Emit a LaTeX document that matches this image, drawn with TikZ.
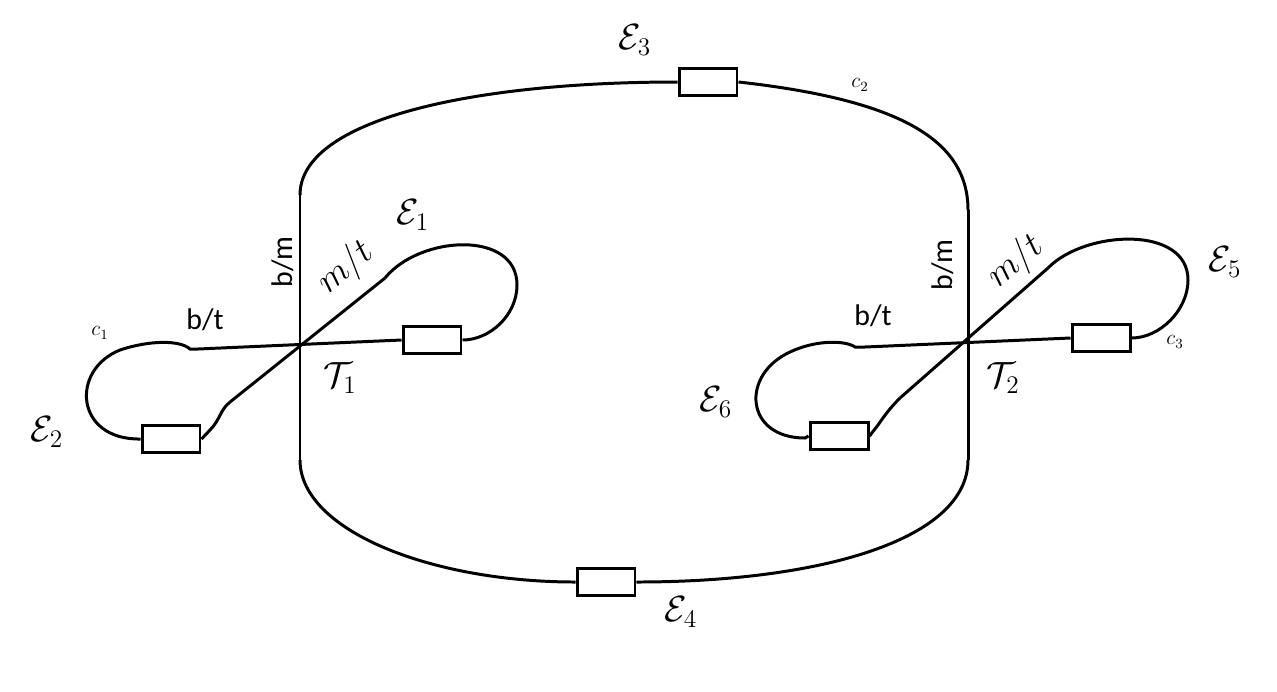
\documentclass[tikz,border=0pt]{standalone}
\usepackage{fontspec}
\newfontfamily\carlitofont{Carlito}
\begin{document}
\begin{tikzpicture}[x=0.02cm,y=-0.02cm,line width=1.7pt,
  comp/.style={draw,line width=1.7pt,minimum width=1.16cm,minimum height=0.55cm,inner sep=0pt,fill=white},
  lab/.style={font=\fontsize{20}{20}\selectfont},
  sl/.style={font=\carlitofont\fontsize{17}{17}\selectfont}]
\useasboundingbox (0,0) rectangle (1277,691);
\coordinate (lt) at (300,195);
\coordinate (lb) at (300,460);
\coordinate (rt) at (968,210);
\coordinate (rb) at (968,460);
\node[comp] (e3) at (708,82) {};
\node[comp] (e4) at (606,582) {};
\node[comp] (e1) at (432,340) {};
\node[comp] (e2) at (171,439) {};
\node[comp] (e5) at (1101,338) {};
\node[comp] (e6) at (839,436) {};
% outer frame
\draw (lt) -- (lb);
\draw (rt) -- (rb);
\draw (lt) .. controls (300,120) and (470,82) .. (e3.west);
\draw (e3.east) .. controls (900,100) and (968,140) .. (rt);
\draw (lb) .. controls (300,530) and (430,582) .. (e4.west);
\draw (e4.east) .. controls (820,582) and (968,540) .. (rb);
% left figure eight
\coordinate (a1) at (198,349);
\coordinate (d1) at (385,278);
\coordinate (d2) at (230,402);
\draw (a1) -- (e1.west);
\draw (d2) -- (d1);
\draw (d1) .. controls (420,235) and (517,230) .. (517,285)
      .. controls (517,315) and (490,340) .. (e1.east);
\draw (a1) -- (190,349) .. controls (180,340) and (150,340) .. (120,350)
      .. controls (70,370) and (75,440) .. (e2.west);
\draw (e2.east) -- (210,430) .. controls (220,420) and (220,410) .. (d2);
% right figure eight
\coordinate (a2) at (865,347);
\coordinate (d3) at (1048,268);
\coordinate (d4) at (900,398);
\draw (a2) -- (e5.west);
\draw (d4) -- (d3);
\draw (d3) .. controls (1085,230) and (1188,225) .. (1188,280)
      .. controls (1188,310) and (1160,338) .. (e5.east);
\draw (a2) -- (855,347) .. controls (845,340) and (815,340) .. (790,352)
      .. controls (740,375) and (745,438) .. (805,438) -- (e6.west);
\draw (e6.east) -- (878,425) .. controls (885,415) and (890,408) .. (d4);
% labels
\node[lab] at (635,40) {$\mathcal{E}_3$};
\node[lab] at (681,612) {$\mathcal{E}_4$};
\node[lab] at (413,215) {$\mathcal{E}_1$};
\node[lab] at (47,432) {$\mathcal{E}_2$};
\node[lab] at (1225,262) {$\mathcal{E}_5$};
\node[lab] at (716,402) {$\mathcal{E}_6$};
\node[lab] at (340,378) {$\mathcal{T}_1$};
\node[lab] at (1003,378) {$\mathcal{T}_2$};
\node[font=\fontsize{12}{12}\selectfont] at (860,85) {$c_2$};
\node[font=\fontsize{12}{12}\selectfont] at (100,333) {$c_1$};
\node[font=\fontsize{12}{12}\selectfont] at (1175,342) {$c_3$};
\node[sl,rotate=90] at (283,262) {b/m};
\node[sl,rotate=90] at (943,265) {b/m};
\node[sl] at (205,320) {b/t};
\node[sl] at (873,316) {b/t};
\node[lab,rotate=40,inner sep=0pt] at (346,268) {$m/t$};
\node[lab,rotate=40,inner sep=0pt] at (1016,262) {$m/t$};
\end{tikzpicture}
\end{document}
